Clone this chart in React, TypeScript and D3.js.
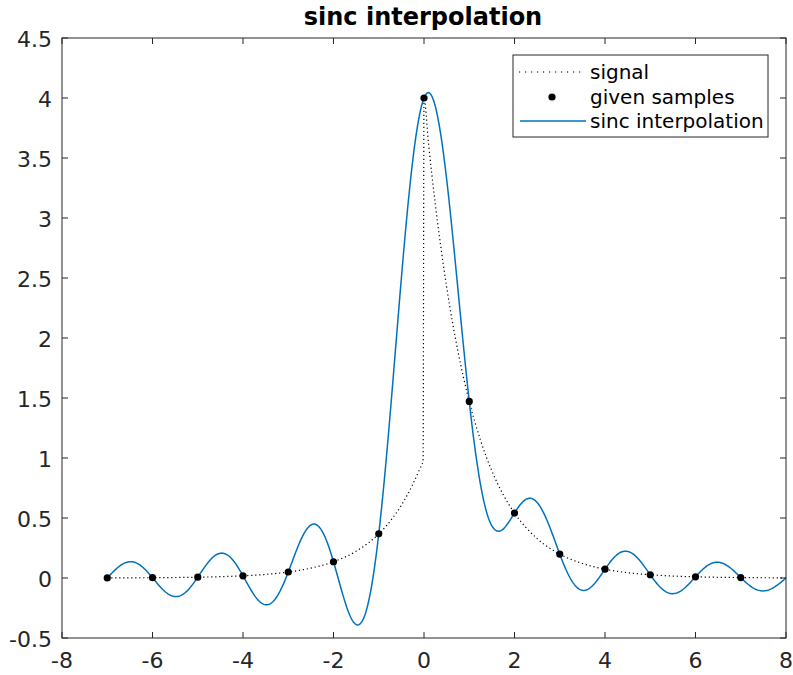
import React from "react";
import * as d3 from "d3";

// ---- data ----
const signalX = [-7, -6.5, -6, -5.5, -5, -4.5, -4, -3.5, -3, -2.5, -2, -1.5, -1, -0.75, -0.5, -0.25, -0.1, -0.02, 0,
  0.1, 0.25, 0.5, 0.75, 1, 1.25, 1.5, 1.75, 2, 2.5, 3, 3.5, 4, 4.5, 5, 5.5, 6, 6.5, 7, 7.5, 8];
const signalY = [0.0009, 0.0015, 0.0025, 0.0041, 0.0067, 0.0111, 0.0183, 0.0302, 0.0498, 0.0821, 0.1353, 0.2231, 0.3679, 0.4724, 0.6065, 0.7788, 0.9048, 0.9802, 4,
  3.619, 3.115, 2.426, 1.889, 1.4715, 1.146, 0.8925, 0.695, 0.5413, 0.3283, 0.1991, 0.1208, 0.0733, 0.0444, 0.027, 0.0163, 0.0099, 0.006, 0.0036, 0.0022, 0.0013];
const sampleX = [-7, -6, -5, -4, -3, -2, -1, 0, 1, 2, 3, 4, 5, 6, 7];
const sampleY = [0.0009, 0.0025, 0.0067, 0.0183, 0.0498, 0.1353, 0.3679, 4, 1.4715, 0.5413, 0.1991, 0.0733, 0.027, 0.0099, 0.0036];
const xTicks = [-8, -6, -4, -2, 0, 2, 4, 6, 8];
const yTicks = [-0.5, 0, 0.5, 1, 1.5, 2, 2.5, 3, 3.5, 4, 4.5];
const legendLabels = ["signal", "given samples", "sinc interpolation"];
const interpRange = [-7, 8];

const W = 793, H = 675;
const left = 62, right = 786, top = 38, bottom = 638;
const FONT = "DejaVu Sans, sans-serif";
const BLUE = "#0072BD";
const AX = "#262626";

const sinc = (t: number) => (t === 0 ? 1 : Math.sin(Math.PI * t) / (Math.PI * t));

export default function App() {
  const x = d3.scaleLinear().domain([-8, 8]).range([left, right]);
  const y = d3.scaleLinear().domain([-0.5, 4.5]).range([bottom, top]);

  const signal = signalX.map((v, i) => [v, signalY[i]] as [number, number]);
  const interpX = d3.range(interpRange[0], interpRange[1] + 1e-9, 0.02);
  const interp = interpX.map((t) => [t, d3.sum(sampleX, (n, i) => sampleY[i] * sinc(t - n))] as [number, number]);

  const sigLine = d3.line<[number, number]>().x((d) => x(d[0])).y((d) => y(d[1])).curve(d3.curveMonotoneX);
  const intLine = d3.line<[number, number]>().x((d) => x(d[0])).y((d) => y(d[1]));

  const fs = 22;
  const lfs = 20;
  const lx = 513, ly = 55, lw = 255, lh = 82;

  return (
    <svg width={W} height={H} style={{ display: "block", position: "absolute", left: 0, top: 0, background: "#fff" }}>
      <rect x={0} y={0} width={W} height={H} fill="#fff" />
      <text x={(left + right) / 2 - 1} y={25} textAnchor="middle" fontFamily={FONT} fontWeight="bold" fontSize={24} fill="#000">
        sinc interpolation
      </text>
      <path d={sigLine(signal) || ""} fill="none" stroke="#000" strokeWidth={1.2} strokeDasharray="1.2 2.8" />
      <path d={intLine(interp) || ""} fill="none" stroke={BLUE} strokeWidth={1.5} />
      {sampleX.map((v, i) => (
        <circle key={i} cx={x(v)} cy={y(sampleY[i])} r={3.6} fill="#000" />
      ))}
      {/* axes box */}
      <rect x={left} y={top} width={right - left} height={bottom - top} fill="none" stroke={AX} strokeWidth={1} />
      {xTicks.map((t) => (
        <g key={"x" + t}>
          <line x1={x(t)} x2={x(t)} y1={bottom} y2={bottom - 6} stroke={AX} />
          <line x1={x(t)} x2={x(t)} y1={top} y2={top + 6} stroke={AX} />
          <text x={x(t)} y={bottom + 30} textAnchor="middle" fontFamily={FONT} fontSize={fs} fill={AX}>{t}</text>
        </g>
      ))}
      {yTicks.map((t) => (
        <g key={"y" + t}>
          <line x1={left} x2={left + 6} y1={y(t)} y2={y(t)} stroke={AX} />
          <line x1={right} x2={right - 6} y1={y(t)} y2={y(t)} stroke={AX} />
          <text x={left - 10} y={y(t) + 1} dy="0.36em" textAnchor="end" fontFamily={FONT} fontSize={fs} fill={AX}>{t}</text>
        </g>
      ))}
      {/* legend */}
      <rect x={lx} y={ly} width={lw} height={lh} fill="#fff" stroke={AX} strokeWidth={1} />
      <line x1={lx + 6} x2={lx + 70} y1={ly + 17} y2={ly + 17} stroke="#000" strokeWidth={1.2} strokeDasharray="1.2 4.8" />
      <circle cx={lx + 39} cy={ly + 42} r={3.6} fill="#000" />
      <line x1={lx + 7} x2={lx + 73} y1={ly + 66} y2={ly + 66} stroke={BLUE} strokeWidth={1.5} />
      {legendLabels.map((l, i) => (
        <text key={l} x={lx + 77} y={ly + 17 + i * 24.5} dy="0.36em" fontFamily={FONT} fontSize={lfs} fill="#000">{l}</text>
      ))}
    </svg>
  );
}
